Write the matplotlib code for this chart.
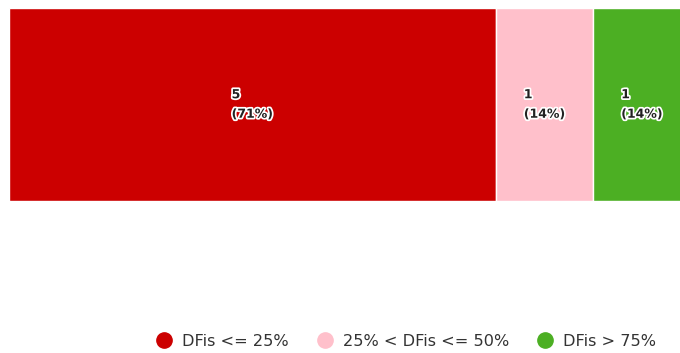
import matplotlib.pyplot as plt
import matplotlib.patheffects as pe
from matplotlib.lines import Line2D

# data
categories = ["DFis <= 25%", "25% < DFis <= 50%", "DFis > 75%"]
counts = [5, 1, 1]
colors = ["#cc0000", "#ffc0cb", "#4caf23"]

total = sum(counts)

fig = plt.figure(figsize=(6.8, 3.53), dpi=100)
ax = fig.add_axes([9 / 680, 1 - 201 / 353, 671 / 680, 193 / 353])

left = 0
for cat, n, c in zip(categories, counts, colors):
    ax.barh(0, n, left=left, height=1, color=c, edgecolor="white", linewidth=1)
    pct = round(100 * n / total)
    ax.text(left + n / 2, 0, f"{n}\n({pct}%)", ha="center", va="center",
            multialignment="left", fontsize=9, fontweight="bold", color="#222222",
            linespacing=1.65,
            path_effects=[pe.withStroke(linewidth=2.5, foreground="white")])
    left += n

# right end of the bar runs past the figure edge
ax.set_xlim(0, 671 / 97.4)
ax.set_ylim(-0.5, 0.5)
ax.axis("off")

handles = [Line2D([], [], marker="o", linestyle="", markersize=11,
                  markerfacecolor=c, markeredgecolor=c) for c in colors]
fig.legend(handles, categories, loc="center", bbox_to_anchor=(406 / 680, 1 - 341 / 353),
           ncol=3, frameon=False, fontsize=11.6, handlelength=1.0, handletextpad=0.6,
           columnspacing=1.75, labelcolor="#333333")

fig.savefig("out.png", dpi=100)
